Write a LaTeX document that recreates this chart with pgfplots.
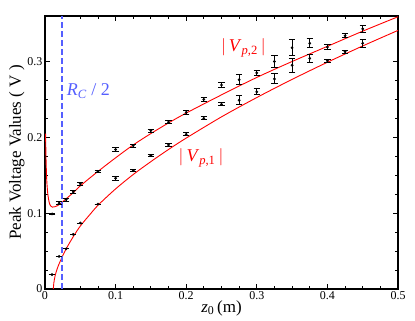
\documentclass[border=0pt]{standalone}
\usepackage{fontspec}
\setmainfont{Liberation Serif}
\usepackage{pgfplots}
\usepackage{pgfplotstable}
\pgfplotsset{compat=1.18}
\definecolor{fitred}{RGB}{255,0,0}
\definecolor{rcblue}{RGB}{85,95,255}

% measured peak voltages |V_{p,1}| and |V_{p,2}|, with error
\pgfplotstableread{
x y e
0.01 0.019 0.0
0.02 0.043 0.0
0.03 0.053 0.0
0.04 0.072 0.0
0.05 0.087 0.0
0.075 0.112 0.0
0.1 0.146 0.003
0.125 0.156 0.001
0.15 0.176 0.001
0.175 0.190 0.002
0.2 0.204 0.002
0.225 0.225 0.002
0.25 0.2435 0.002
0.275 0.249 0.006
0.3 0.260 0.004
0.325 0.277 0.0066
0.35 0.295 0.009
0.375 0.304 0.0055
0.4 0.301 0.002
0.425 0.313 0.002
0.45 0.324 0.005
}\vpone
\pgfplotstableread{
x y e
0.01 0.099 0.001
0.02 0.113 0.002
0.03 0.118 0.002
0.04 0.128 0.002
0.05 0.139 0.002
0.075 0.155 0.001
0.1 0.184 0.003
0.125 0.189 0.002
0.15 0.209 0.002
0.175 0.220 0.002
0.2 0.233 0.003
0.225 0.250 0.003
0.25 0.269 0.003
0.275 0.276 0.0066
0.3 0.285 0.003
0.325 0.300 0.008
0.35 0.318 0.0106
0.375 0.324 0.006
0.4 0.319 0.003
0.425 0.334 0.0025
0.45 0.343 0.005
}\vptwo

\begin{document}
\begin{tikzpicture}
\begin{axis}[
  scale only axis, width=353pt, height=273pt,
  xmin=0, xmax=0.5, ymin=0, ymax=0.36,
  xtick={0,0.1,0.2,0.3,0.4,0.5}, ytick={0,0.1,0.2,0.3},
  minor x tick num=3, minor y tick num=3,
  tick align=inside, major tick length=5pt, minor tick length=3pt,
  tick style={black, line width=0.9pt},
  axis line style={line width=1.3pt},
  every tick label/.append style={font=\fontsize{12}{14}\selectfont},
  /pgf/number format/assume math mode=true,
  xticklabel style={yshift=1pt},
  yticklabel style={xshift=1pt},
  xlabel={\textit{z}\textsubscript{0}\,(m)},
  ylabel={Peak Voltage Values ( V )},
  label style={font=\fontsize{17}{19}\selectfont},
  xlabel style={yshift=6pt},
  ylabel style={yshift=-4pt},
  clip=true,
]
\addplot[fitred, line width=0.9pt, smooth] coordinates {
(0.0118,0) (0.0125,0.008) (0.014,0.016) (0.016,0.023) (0.019,0.031) (0.0237,0.041)
(0.03,0.053) (0.04,0.069) (0.05,0.083) (0.0625,0.097) (0.0757,0.111) (0.1,0.132)
(0.125,0.151) (0.15,0.168) (0.175,0.184) (0.2,0.199) (0.25,0.227) (0.3,0.2525)
(0.35,0.2764) (0.4,0.299) (0.45,0.3205) (0.5,0.341)};
\addplot[fitred, line width=0.9pt, smooth] coordinates {
(0.0008,0.205) (0.0015,0.17) (0.0025,0.143) (0.004,0.125) (0.006,0.114) (0.008,0.1095)
(0.0105,0.108) (0.014,0.1085) (0.018,0.110) (0.0237,0.114) (0.03,0.119) (0.04,0.127)
(0.05,0.136) (0.075,0.155) (0.1,0.173) (0.125,0.190) (0.15,0.205) (0.175,0.219)
(0.2,0.232) (0.25,0.256) (0.3,0.279) (0.35,0.300) (0.4,0.320) (0.45,0.340) (0.5,0.359)};
\addplot[rcblue, line width=2pt, dash pattern=on 6pt off 3pt] table {
x y
0.0237 0
0.0237 0.36
};
\addplot[black, only marks, mark=*, mark size=1.2pt,
  error bars/.cd, y dir=both, y explicit,
  error bar style={line width=0.9pt},
  error mark options={rotate=90, mark size=3.2pt, line width=0.9pt}]
  table[x=x, y=y, y error=e]{\vpone};
\addplot[black, only marks, mark=*, mark size=1.2pt,
  error bars/.cd, y dir=both, y explicit,
  error bar style={line width=0.9pt},
  error mark options={rotate=90, mark size=3.2pt, line width=0.9pt}]
  table[x=x, y=y, y error=e]{\vptwo};
\node[text=rcblue, anchor=base west, font=\fontsize{18}{20}\selectfont] at (axis cs:0.026,0.255)
  {\textit{R}\textsubscript{\textit{C}} / 2};
\node[text=fitred, font=\fontsize{18}{20}\selectfont] at (axis cs:0.281,0.318)
  {$\bigl|$\,\textit{V}\textsubscript{\textit{p},2}\,$\bigr|$};
\node[text=fitred, font=\fontsize{18}{20}\selectfont] at (axis cs:0.221,0.173)
  {$\bigl|$\,\textit{V}\textsubscript{\textit{p},1}\,$\bigr|$};
\end{axis}
\pgfresetboundingbox
\path (-45pt,-32pt) rectangle (370pt,289pt);
\end{tikzpicture}
\end{document}
